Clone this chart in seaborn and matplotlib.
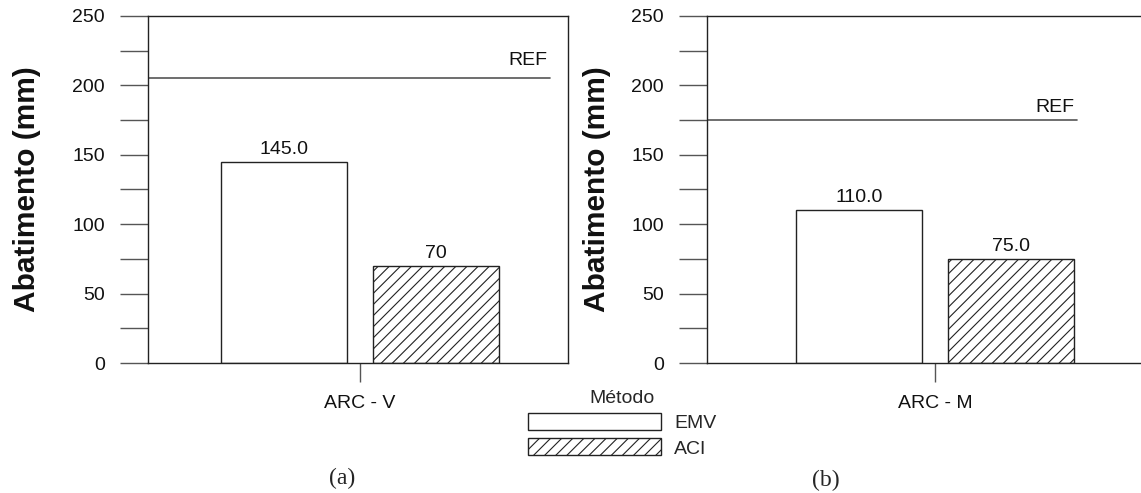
import matplotlib
matplotlib.use("Agg")
import matplotlib.pyplot as plt
from matplotlib.patches import Patch
from matplotlib.ticker import MultipleLocator
import seaborn as sns
import pandas as pd

# Slump results per mix design method
metodos = ["EMV", "ACI"]
mistura_v = "ARC - V"
mistura_m = "ARC - M"
abatimento_v = [145.0, 70.0]
abatimento_m = [110.0, 75.0]
decimais_v = [1, 0]
decimais_m = [1, 1]
ref_v = 205.0
ref_m = 175.0
y_ticks = [0, 50, 100, 150, 200, 250]

sns.set_theme(style="white")
plt.rcParams["font.family"] = ["Liberation Sans", "DejaVu Sans"]
plt.rcParams["hatch.linewidth"] = 0.8
plt.rcParams["hatch.color"] = "#333333"

W, H = 1141, 493
FS = 14
fig = plt.figure(figsize=(W / 100, H / 100), dpi=100)


def px_axes(x0, x1, ytop, ybot):
    return fig.add_axes([x0 / W, 1 - ybot / H, (x1 - x0) / W, (ybot - ytop) / H])


ax_v = px_axes(148, 568, 16, 363)
ax_m = px_axes(707, 1163, 16, 363)

LINE = "#222222"
TICK = "#555555"


def painel(ax, mistura, valores, decimais, ref, ref_end, ref_dy, xlim, label_x):
    df = pd.DataFrame({"Mistura": [mistura] * len(metodos),
                       "Método": metodos,
                       "Abatimento": valores})
    sns.barplot(data=df, x="Mistura", y="Abatimento", hue="Método",
                hue_order=metodos, palette=["white", "white"],
                edgecolor=LINE, linewidth=1.0, width=0.724, gap=0.166,
                legend=False, ax=ax)
    for bar in ax.containers[1]:
        bar.set_hatch("///")
    for cont, dec in zip(ax.containers, decimais):
        ax.bar_label(cont, labels=[f"{v:.{dec}f}" for v in cont.datavalues],
                     padding=3, fontsize=FS, color="#111111")

    ax.set_ylim(0, 250)
    ax.set_xlim(*xlim)
    ax.set_yticks(y_ticks)
    ax.yaxis.set_minor_locator(MultipleLocator(25))
    ax.tick_params(axis="y", which="both", direction="out", length=20,
                   width=1.0, color=TICK, pad=11, labelsize=FS,
                   labelcolor="#111111", left=True)
    ax.tick_params(axis="x", direction="out", length=14, width=1.0,
                   color=TICK, pad=9, labelsize=FS, labelcolor="#111111",
                   bottom=True)
    ax.set_xlabel("")
    ax.set_ylabel("Abatimento (mm)", fontsize=21.5, fontweight="bold",
                  va="center", color="#111111")
    ax.yaxis.set_label_coords(label_x, 0.5)

    for s in ax.spines.values():
        s.set_color(LINE)
        s.set_linewidth(1.0)
        s.set_visible(True)

    ax.axhline(ref, xmin=0, xmax=ref_end, color="#555555", lw=1.2)
    ax.annotate("REF", xy=(ref_end, ref), xycoords=("axes fraction", "data"),
                xytext=(-2, ref_dy), textcoords="offset points",
                ha="right", va="bottom", fontsize=FS, color="#111111")


painel(ax_v, mistura_v, abatimento_v, decimais_v, ref_v, 0.957, 7,
       (-212 / 420, 208 / 420), (27 - 148) / 420)
painel(ax_m, mistura_m, abatimento_m, decimais_m, ref_m, 0.811, 3,
       (-228 / 420, 228 / 420), (597 - 707) / 456)

handles = [Patch(facecolor="white", edgecolor=LINE, linewidth=1.0),
           Patch(facecolor="white", edgecolor=LINE, linewidth=1.0, hatch="///")]
fig.legend(handles, metodos, title="Método", loc="upper left",
           bbox_to_anchor=(528 / W, 1 - 390 / H), frameon=False,
           fontsize=FS, title_fontsize=FS, borderpad=0, borderaxespad=0,
           handlelength=6.85, handleheight=0.98, labelspacing=0.31,
           handletextpad=0.67)

fig.text(342 / W, 1 - 478 / H, "(a)", ha="center", va="center",
         fontsize=17, family=["Liberation Serif", "DejaVu Serif"])
fig.text(826 / W, 1 - 480 / H, "(b)", ha="center", va="center",
         fontsize=17, family=["Liberation Serif", "DejaVu Serif"])

fig.savefig("out.png", dpi=100, facecolor="white")
